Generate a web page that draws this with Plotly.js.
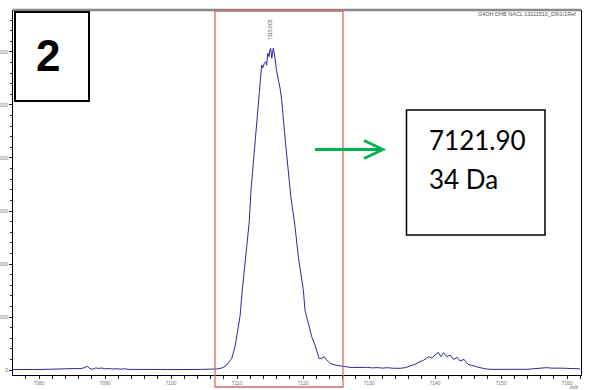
<!DOCTYPE html>
<html>
<head>
<meta charset="utf-8">
<script src="https://cdn.plot.ly/plotly-3.0.1.min.js"></script>
<style>html,body{margin:0;padding:0;background:#fff;}#chart{width:589px;height:390px;}</style>
</head>
<body>
<div id="chart"></div>
<script>
// m/z values (Da)
const mz = [7076.0,7077.0,7078.0,7079.0,7080.0,7081.0,7082.0,7083.0,7084.0,7084.8,7085.5,7086.2,7086.8,7087.3,7087.7,7088.1,7088.6,7089.0,7089.5,7090.0,7090.6,7091.2,7091.8,7092.5,7093.0,7093.5,7094.5,7095.5,7096.5,7097.5,7098.5,7099.5,7100.5,7101.5,7102.5,7103.5,7104.5,7105.5,7106.3,7107.0,7107.6,7108.0,7108.44,7108.8,7109.2,7109.7,7110.11,7110.45,7110.8,7111.11,7111.47,7111.86,7112.12,7112.38,7112.6,7112.83,7113.23,7113.48,7113.74,7113.9,7114.14,7114.35,7114.5,7114.65,7114.85,7115.0,7115.11,7115.26,7115.4,7115.5,7115.65,7115.85,7116.02,7116.36,7116.52,7116.77,7117.02,7117.17,7117.53,7117.77,7118.18,7118.38,7118.79,7119.29,7119.7,7120.05,7120.3,7120.8,7121.32,7121.82,7122.1,7122.42,7122.83,7123.23,7123.59,7124.09,7124.85,7125.4,7126.06,7126.8,7127.5,7128.3,7129.0,7129.8,7130.5,7131.3,7132.0,7132.8,7133.6,7134.7,7135.5,7136.2,7137.0,7137.7,7138.2,7138.7,7139.1,7139.5,7140.0,7140.5,7140.9,7141.3,7141.8,7142.3,7142.8,7143.4,7143.8,7144.4,7145.0,7145.6,7146.3,7147.0,7147.8,7148.8,7149.8,7150.8,7151.6,7152.4,7153.2,7154.0,7154.8,7155.6,7156.3,7156.9,7157.6,7158.4,7159.2,7159.9,7160.8,7162.0];
// intensities (a.u.)
const intensity = [8,12,6,10,9,14,8,15,18,22,28,25,40,70,30,15,40,30,38,22,28,18,24,15,25,12,14,8,12,6,10,8,12,6,14,10,12,15,14,20,35,55,94,150,221,440,755,1006,1510,1887,2264,2798,3396,3774,4050,4340,4906,5252,5755,5700,5787,5818,5750,5976,5912,6050,6070,5882,5990,6070,5976,5780,5629,5415,5321,5095,4661,4528,4057,3717,3245,3081,2704,2138,1761,1509,1132,881,628,472,350,221,221,251,189,126,94,80,62,55,48,52,42,50,40,46,36,44,34,32,45,75,110,157,180,221,251,226,283,334,251,327,251,283,201,239,170,201,107,80,62,40,19,12,10,14,9,12,16,14,22,30,38,45,36,42,35,32,28,22];
const xTickVals = [7080,7090,7100,7110,7120,7130,7140,7150,7160];
const xTickText = ['7080','7090','7100','7110','7120','7130','7140','7150','7160'];
const yTickVals = [0,1000,2000,3000,4000,5000,6000];
const yTickText = ['0','1000','2000','3000','4000','5000','6000'];
const peakMz = 7115.005;
const peakLabel = '7115.005';
const headerText = 'G4OH DHB NACL 13111510_D9\\1\\1Ref';
const boxLabel = '2';
const massText = '7121.90';
const daText = '34 Da';

// pixel helpers for overlay shapes (plot area 13..581 x, 10..375 y)
const L = 13, R = 581, T = 10, B = 375;
const px = v => (v - L) / (R - L);
const py = v => (B - v) / (B - T);

const trace = {
  x: mz, y: intensity, type: 'scatter', mode: 'lines',
  line: {color: '#2a2a98', width: 1}, hoverinfo: 'skip'
};

const tickFont = {family: 'Liberation Sans, Arial, sans-serif', size: 5, color: '#777'};

const layout = {
  width: 589, height: 390,
  margin: {l: L, r: 589 - R, t: T, b: 390 - B, pad: 0},
  paper_bgcolor: '#fff', plot_bgcolor: '#fff',
  showlegend: false,
  xaxis: {
    range: [7076.06, 7162.12], showgrid: false, zeroline: false,
    showline: true, linecolor: '#000', linewidth: 1,
    ticks: 'outside', ticklen: 3, tickwidth: 1, tickcolor: '#222',
    tickvals: xTickVals, ticktext: xTickText, tickfont: tickFont,
    minor: {dtick: 2, tick0: 7080, ticks: 'outside', ticklen: 3, tickcolor: '#222', showgrid: false}
  },
  yaxis: {
    range: [-94, 6792], showgrid: false, zeroline: false,
    showline: true, linecolor: '#000', linewidth: 1, mirror: true,
    ticks: 'outside', ticklen: 3, tickwidth: 1, tickcolor: '#222',
    tickvals: yTickVals, ticktext: yTickText, tickfont: tickFont,
    minor: {dtick: 200, tick0: 0, ticks: 'outside', ticklen: 2, tickcolor: '#222', showgrid: false}
  },
  shapes: [
    // top gray border
    {type: 'line', xref: 'paper', yref: 'paper', x0: 0, x1: 1, y0: 1, y1: 1, line: {color: '#888', width: 2.5}},
    // label box "2"
    {type: 'rect', xref: 'paper', yref: 'paper', x0: px(15), x1: px(89), y0: py(101), y1: py(12), line: {color: '#000', width: 2}, fillcolor: '#fff'},
    // red highlight rectangle
    {type: 'rect', xref: 'paper', yref: 'paper', x0: px(215), x1: px(343), y0: py(387), y1: py(11), line: {color: '#d46a6a', width: 1.3}},
    // green arrow
    {type: 'line', xref: 'paper', yref: 'paper', x0: px(315), x1: px(383), y0: py(149.5), y1: py(149.5), line: {color: '#00b050', width: 2.8}},
    {type: 'path', xref: 'paper', yref: 'paper',
     path: 'M ' + px(364) + ' ' + py(140.5) + ' L ' + px(383) + ' ' + py(149.5) + ' L ' + px(364) + ' ' + py(158.5),
     line: {color: '#00b050', width: 2.8}},
    // value box
    {type: 'rect', xref: 'paper', yref: 'paper', x0: px(406.5), x1: px(545), y0: py(235), y1: py(110), line: {color: '#000', width: 1.5}, fillcolor: '#fff'}
  ],
  annotations: [
    {x: peakMz, y: 6415, xref: 'x', yref: 'y', text: peakLabel, showarrow: false, textangle: -90,
     xanchor: 'center', yanchor: 'middle', font: {family: 'Liberation Sans, Arial, sans-serif', size: 5, color: '#555'}},
    {x: px(578), y: py(14), xref: 'paper', yref: 'paper', text: headerText, showarrow: false,
     xanchor: 'right', yanchor: 'middle', font: {family: 'Liberation Sans, Arial, sans-serif', size: 5.5, color: '#555'}},
    {x: px(581), y: py(387.5), xref: 'paper', yref: 'paper', text: 'm/z', showarrow: false,
     xanchor: 'right', yanchor: 'middle', font: {family: 'Liberation Sans, Arial, sans-serif', size: 5, color: '#555'}},
    {x: px(48), y: py(55), xref: 'paper', yref: 'paper', text: '<b>' + boxLabel + '</b>', showarrow: false,
     xanchor: 'center', yanchor: 'middle', font: {family: 'Liberation Sans, Arial, sans-serif', size: 44, color: '#000'}},
    {x: px(427), y: py(140), xref: 'paper', yref: 'paper', text: massText, showarrow: false,
     xanchor: 'left', yanchor: 'middle', font: {family: 'Lato, sans-serif', size: 26, color: '#000'}},
    {x: px(427), y: py(179), xref: 'paper', yref: 'paper', text: daText, showarrow: false,
     xanchor: 'left', yanchor: 'middle', font: {family: 'Lato, sans-serif', size: 26, color: '#000'}}
  ]
};

Plotly.newPlot('chart', [trace], layout, {displayModeBar: false, staticPlot: true});
</script>
</body>
</html>
